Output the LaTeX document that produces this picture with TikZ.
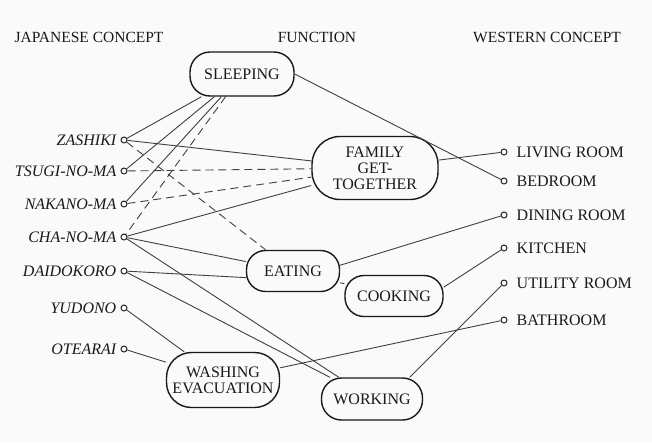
\documentclass[tikz,border=0pt]{standalone}
\usepackage{fontspec}
\setmainfont{Liberation Serif}

\tikzset{
    head/.style={text=black!90, font=\fontsize{15.5}{16}\selectfont},
    func/.style={draw=black!90, text=black!90, line width=1.4pt, align=center, inner sep=0pt,
        font=\fontsize{16}{16}\selectfont},
    room/.style={circle, draw=black!85, line width=1pt, inner sep=0pt, minimum size=6pt},
    jp/.style={room, label={[text=black!90, font=\fontsize{16}{16}\selectfont\itshape,
        label distance=4pt, inner sep=0pt]left:#1}},
    west/.style={room, label={[text=black!90, font=\fontsize{16}{16}\selectfont,
        label distance=9pt, inner sep=0pt]right:#1}},
    link/.style={draw=black!75, line width=0.9pt},
    weak/.style={link, dash pattern=on 8pt off 5pt},
}

\begin{document}
\begin{tikzpicture}[x=1pt, y=-1pt]
    \fill[black!2] (0,0) rectangle (652,442);
    \useasboundingbox (0,0) rectangle (652,442);

    % column titles
    \node[head] (hjapan) at (89,37) {JAPANESE CONCEPT};
    \node[head] (hfunc) at (317,37) {FUNCTION};
    \node[head] (hwest) at (547,37) {WESTERN CONCEPT};

    % japanese rooms
    \node[jp=ZASHIKI] (zashiki) at (124,140) {};
    \node[jp=TSUGI-NO-MA] (tsugi) at (124,171) {};
    \node[jp=NAKANO-MA] (nakano) at (124,204) {};
    \node[jp=CHA-NO-MA] (chanoma) at (124,237) {};
    \node[jp=DAIDOKORO] (daidokoro) at (124,271) {};
    \node[jp=YUDONO] (yudono) at (124,308) {};
    \node[jp=OTEARAI] (otearai) at (124,349) {};

    % functions
    \node[func, minimum width=104pt, minimum height=44pt, rounded corners=20pt] (sleeping) at (242,74) {SLEEPING};
    \node[func, minimum width=126pt, minimum height=63pt, rounded corners=28pt] (family) at (375,168) {FAMILY\\GET-\\TOGETHER};
    \node[func, minimum width=93pt, minimum height=41pt, rounded corners=19pt] (eating) at (293,271) {EATING};
    \node[func, minimum width=98pt, minimum height=41pt, rounded corners=19pt] (cooking) at (394,296) {COOKING};
    \node[func, minimum width=113pt, minimum height=55pt, rounded corners=25pt] (washing) at (223,380) {WASHING\\EVACUATION};
    \node[func, minimum width=101pt, minimum height=42pt, rounded corners=20pt] (working) at (372,399) {WORKING};

    % western rooms
    \node[west=LIVING ROOM] (living) at (504,152) {};
    \node[west=BEDROOM] (bedroom) at (504,181) {};
    \node[west=DINING ROOM] (dining) at (504,215) {};
    \node[west=KITCHEN] (kitchen) at (504,248) {};
    \node[west=UTILITY ROOM] (utility) at (504,283) {};
    \node[west=BATHROOM] (bathroom) at (504,320) {};

    % japanese -> function
    \foreach \r in {zashiki,tsugi,nakano}
        \draw[link] (sleeping) -- (\r);
    \draw[weak] (sleeping) -- (chanoma);
    \draw[link] (zashiki) -- (family);
    \draw[weak] (zashiki) -- (eating);
    \draw[weak] (tsugi) -- (family);
    \draw[weak] (nakano) -- (family);
    \foreach \f in {family,eating,working}
        \draw[link] (chanoma) -- (\f);
    \draw[link] (daidokoro) -- (eating.188);
    \draw[link] (daidokoro) -- (working);
    \draw[link] (yudono) -- (washing);
    \draw[link] (otearai) -- (washing);

    % function -> western
    \draw[link] (sleeping.east) -- (bedroom);
    \draw[link] (family) -- (living);
    \draw[link] (eating.7) -- (dining);
    \draw[link] (eating) -- (cooking);
    \draw[link] (cooking.10) -- (kitchen);
    \draw[link] (working.30) -- (utility);
    \draw[link] (washing) -- (bathroom);
\end{tikzpicture}
\end{document}
